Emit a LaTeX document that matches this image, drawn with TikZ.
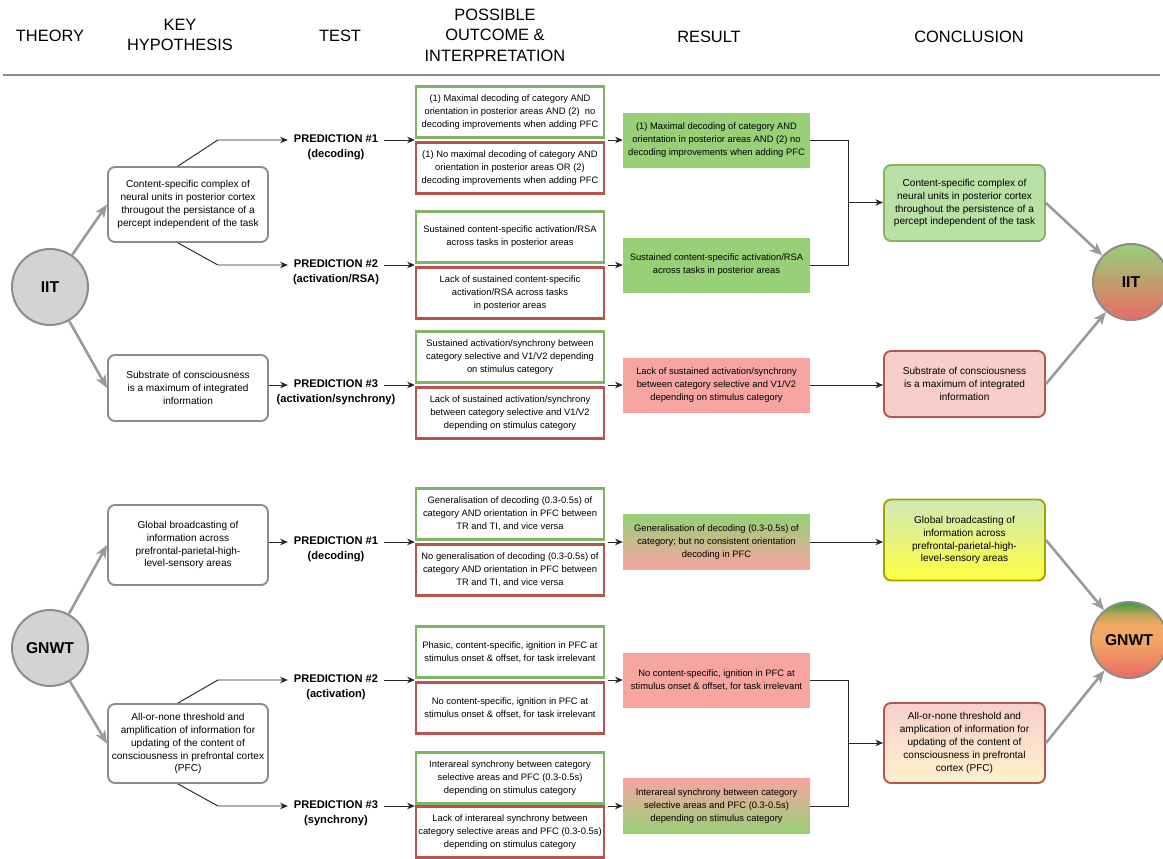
\documentclass[tikz,border=0pt]{standalone}
\usepackage{fontspec}
\setmainfont{Liberation Sans}
\usepackage{xcolor}
\usepackage{tikz}
\usetikzlibrary{arrows.meta, positioning, calc}
\definecolor{kgreen}{HTML}{82B366}
\definecolor{kred}{HTML}{B85450}
\definecolor{kgray}{HTML}{8C8C8C}
\definecolor{karrow}{HTML}{9A9A9A}
\definecolor{kcircle}{HTML}{D3D3D3}
\definecolor{kresgreen}{HTML}{97D077}
\definecolor{kresred}{HTML}{F6A5A1}
\definecolor{kconcgreen}{HTML}{B9E0A5}
\definecolor{kconcred}{HTML}{F8CECC}
\definecolor{kconclime}{HTML}{D0E8B8}
\definecolor{kconcyellow}{HTML}{FFFF40}
\definecolor{kolive}{HTML}{A3A300}
\definecolor{kcream}{HTML}{FFF2CC}
\definecolor{kdeepred}{HTML}{EA6B66}
\definecolor{korange}{HTML}{F2A862}
\definecolor{kdeepgreen}{HTML}{3A9A40}

\pgfdeclareverticalshading{gnwtfade}{100bp}{color(0bp)=(kdeepred); color(25bp)=(kdeepred); color(50bp)=(korange); color(60bp)=(korange); color(67bp)=(korange!70!kdeepgreen); color(75bp)=(kdeepgreen); color(100bp)=(kdeepgreen)}

\tikzset{
  colhead/.style={font=\fontsize{14}{17.5}\selectfont, align=center},
  theory/.style={circle, draw=kgray, line width=1.7pt, minimum size=2.28cm, inner sep=0pt, font=\bfseries\fontsize{13.4}{16}\selectfont},
  hypbox/.style={draw=kgray, line width=1.6pt, rounded corners=6pt, fill=white, align=center, minimum width=4.8cm, inner sep=1pt, font=\fontsize{8.6}{11}\selectfont},
  concbox/.style={hypbox, minimum width=4.83cm},
  predtag/.style={font=\bfseries\fontsize{9.5}{11}\selectfont, inner xsep=5pt, inner ysep=1.5pt, text height=7pt, text depth=2.5pt},
  yesbox/.style={draw=kgreen, line width=2pt, fill=white, align=center, minimum width=5.64cm, minimum height=1.53cm, inner sep=1pt, font=\fontsize{8}{11}\selectfont},
  nobox/.style={yesbox, draw=kred},
  resbox/.style={align=center, minimum width=5.61cm, minimum height=1.65cm, inner sep=1pt, font=\fontsize{8}{11}\selectfont},
  link/.style={-{Stealth[length=6.5pt, width=5.5pt, inset=2pt]}, draw=black!85, line width=0.8pt},
  plain/.style={draw=black!85, line width=0.8pt},
  bigarrow/.style={-{Stealth[length=11pt, width=9pt, inset=3pt]}, draw=karrow, line width=2.2pt}
}

\begin{document}
\begin{tikzpicture}[x=0.03cm, y=-0.03cm]
\useasboundingbox (0,0) rectangle (1163,858);

\node[colhead] (hTheory) at (50,36) {THEORY};
\node[colhead] (hKey) at (180,35) {KEY\\HYPOTHESIS};
\node[colhead] (hTest) at (340,36) {TEST};
\node[colhead] (hOutcome) at (495,35) {POSSIBLE\\OUTCOME \&\\INTERPRETATION};
\node[colhead] (hResult) at (709,37) {RESULT};
\node[colhead] (hConcl) at (969,37) {CONCLUSION};
\draw[kgray, line width=1.5pt] (3,75) -- (1160,75);

% IIT
\node[theory, fill=kcircle] (iit) at (50,287) {IIT};
\node[hypbox, minimum height=2.25cm] (h1) at (188,204.5) {Content-specific complex of\\neural units in posterior cortex\\througout the persistance of a\\percept independent of the task};
\node[hypbox, minimum height=1.98cm] (h2) at (188,388) {Substrate of consciousness\\is a maximum of integrated\\information};

\node[predtag] (p1) at (336,140) {PREDICTION \#1};
\node[predtag, below=0pt of p1] (p1n) {(decoding)};
\node[predtag] (p2) at (336,265) {PREDICTION \#2};
\node[predtag, below=0pt of p2] (p2n) {(activation/RSA)};
\node[predtag] (p3) at (336,385) {PREDICTION \#3};
\node[predtag, below=0pt of p3] (p3n) {(activation/synchrony)};

\node[yesbox] (y1) at (510,112) {(1) Maximal decoding of category AND\\orientation in posterior areas AND (2)~ no\\decoding improvements when adding PFC};
\node[nobox] (n1) at (510,168) {(1) No maximal decoding of category AND\\orientation in posterior areas OR (2)\\decoding improvements when adding PFC};
\node[yesbox] (y2) at (510,237) {Sustained content-specific activation/RSA\\across tasks in posterior areas};
\node[nobox] (n2) at (510,293) {Lack of sustained content-specific\\activation/RSA across tasks\\in posterior areas};
\node[yesbox] (y3) at (510,357) {Sustained activation/synchrony between\\category selective and V1/V2 depending\\on stimulus category};
\node[nobox] (n3) at (510,413) {Lack of sustained activation/synchrony\\between category selective and V1/V2\\depending on stimulus category};

\node[resbox, fill=kresgreen] (r1) at (716.5,140) {(1) Maximal decoding of category AND\\orientation in posterior areas AND (2) no\\decoding improvements when adding PFC};
\node[resbox, fill=kresgreen] (r2) at (716.5,265) {Sustained content-specific activation/RSA\\across tasks in posterior areas};
\node[resbox, fill=kresred] (r3) at (716.5,385) {Lack of sustained activation/synchrony\\between category selective and V1/V2\\depending on stimulus category};

\node[concbox, draw=kgreen, fill=kconcgreen, minimum height=2.28cm] (c1) at (964.5,203) {Content-specific complex of\\neural units in posterior cortex\\throughout the persistence of a\\percept independent of the task};
\node[concbox, draw=kred, fill=kconcred, minimum height=1.98cm] (c2) at (964.5,384) {Substrate of consciousness\\is a maximum of integrated\\information};
\node[theory, top color=kresgreen, bottom color=kdeepred] (iitend) at (1131,282) {IIT};

\draw[bigarrow] (iit) -- (h1.west);
\draw[bigarrow] (iit) -- (h2.west);
\draw[link] ([xshift=-0.3cm]h1.north) -- ([xshift=-2.1cm]p1.west) -- (p1.west);
\draw[link] ([xshift=-0.3cm]h1.south) -- ([xshift=-2.1cm]p2.west) -- (p2.west);
\draw[link] (h2.east |- p3.west) -- (p3.west);
\foreach \i in {1,2,3} {
  \draw[link] (p\i.east) -- (p\i.east -| y\i.west);
  \draw[link, shorten <=2pt] (y\i.east |- r\i.west) -- (r\i.west);
}
\coordinate (j1) at ($(r1.east)!0.5!(r2.east)+(38,0)$);
\draw[plain] (r1.east) -| (j1) |- (r2.east);
\draw[link] (j1) -- (j1 -| c1.west);
\draw[link] (r3.east) -- (r3.east -| c2.west);
\draw[bigarrow] (c1.east) -- (iitend);
\draw[bigarrow] (c2.east) -- (iitend);

% GNWT
\node[theory, fill=kcircle] (gnwt) at (50,648) {GNWT};
\node[hypbox, minimum height=2.4cm] (h3) at (188,545) {Global broadcasting of\\information across\\prefrontal-parietal-high-\\level-sensory areas};
\node[hypbox, minimum height=2.37cm] (h4) at (188,743.5) {All-or-none threshold and\\amplification of information for\\updating of the content of\\consciousness in prefrontal cortex\\(PFC)};

\node[predtag] (p4) at (336,542) {PREDICTION \#1};
\node[predtag, below=0pt of p4] (p4n) {(decoding)};
\node[predtag] (p5) at (336,680) {PREDICTION \#2};
\node[predtag, below=0pt of p5] (p5n) {(activation)};
\node[predtag] (p6) at (336,806) {PREDICTION \#3};
\node[predtag, below=0pt of p6] (p6n) {(synchrony)};

\node[yesbox] (y4) at (510,514) {Generalisation of decoding (0.3-0.5s) of\\category AND orientation in PFC between\\TR and TI, and vice versa};
\node[nobox] (n4) at (510,570) {No generalisation of decoding (0.3-0.5s) of\\category AND orientation in PFC between\\TR and TI, and vice versa};
\node[yesbox] (y5) at (510,652) {Phasic, content-specific, ignition in PFC at\\stimulus onset \& offset, for task irrelevant};
\node[nobox] (n5) at (510,708) {No content-specific, ignition in PFC at\\stimulus onset \& offset, for task irrelevant};
\node[yesbox] (y6) at (510,778) {Interareal synchrony between category\\selective areas and PFC (0.3-0.5s)\\depending on stimulus category};
\node[nobox] (n6) at (510,832) {Lack of interareal synchrony between\\category selective areas and PFC (0.3-0.5s)\\depending on stimulus category};

\node[resbox, top color=kresgreen, bottom color=kresred] (r4) at (716.5,542) {Generalisation of decoding (0.3-0.5s) of\\category; but no consistent orientation\\decoding in PFC};
\node[resbox, fill=kresred] (r5) at (716.5,680) {No content-specific, ignition in PFC at\\stimulus onset \& offset, for task irrelevant};
\node[resbox, top color=kresred, bottom color=kresgreen] (r6) at (716.5,806) {Interareal synchrony between category\\selective areas and PFC (0.3-0.5s)\\depending on stimulus category};

\node[concbox, draw=kolive, top color=kconclime, bottom color=kconcyellow, minimum height=2.43cm] (c3) at (964.5,540) {Global broadcasting of\\information across\\prefrontal-parietal-high-\\level-sensory areas};
\node[concbox, draw=kred, top color=kconcred, bottom color=kcream, minimum height=2.4cm] (c4) at (964.5,743) {All-or-none threshold and\\amplication of information for\\updating of the content of\\consciousness in prefrontal\\cortex (PFC)};
\node[theory, shade, shading=gnwtfade] (gnwtend) at (1129,640) {GNWT};

\draw[bigarrow] (gnwt) -- (h3.west);
\draw[bigarrow] (gnwt) -- (h4.west);
\draw[link] (h3.east |- p4.west) -- (p4.west);
\draw[link] ([xshift=-0.3cm]h4.north) -- ([xshift=-2.1cm]p5.west) -- (p5.west);
\draw[link] ([xshift=-0.3cm]h4.south) -- ([xshift=-2.1cm]p6.west) -- (p6.west);
\foreach \i in {4,5,6} {
  \draw[link] (p\i.east) -- (p\i.east -| y\i.west);
  \draw[link, shorten <=2pt] (y\i.east |- r\i.west) -- (r\i.west);
}
\draw[link] (r4.east) -- (r4.east -| c3.west);
\coordinate (j2) at ($(r5.east)!0.5!(r6.east)+(38,0)$);
\draw[plain] (r5.east) -| (j2) |- (r6.east);
\draw[link] (j2) -- (j2 -| c4.west);
\draw[bigarrow] (c3.east) -- (gnwtend);
\draw[bigarrow] (c4.east) -- (gnwtend);
\end{tikzpicture}
\end{document}
